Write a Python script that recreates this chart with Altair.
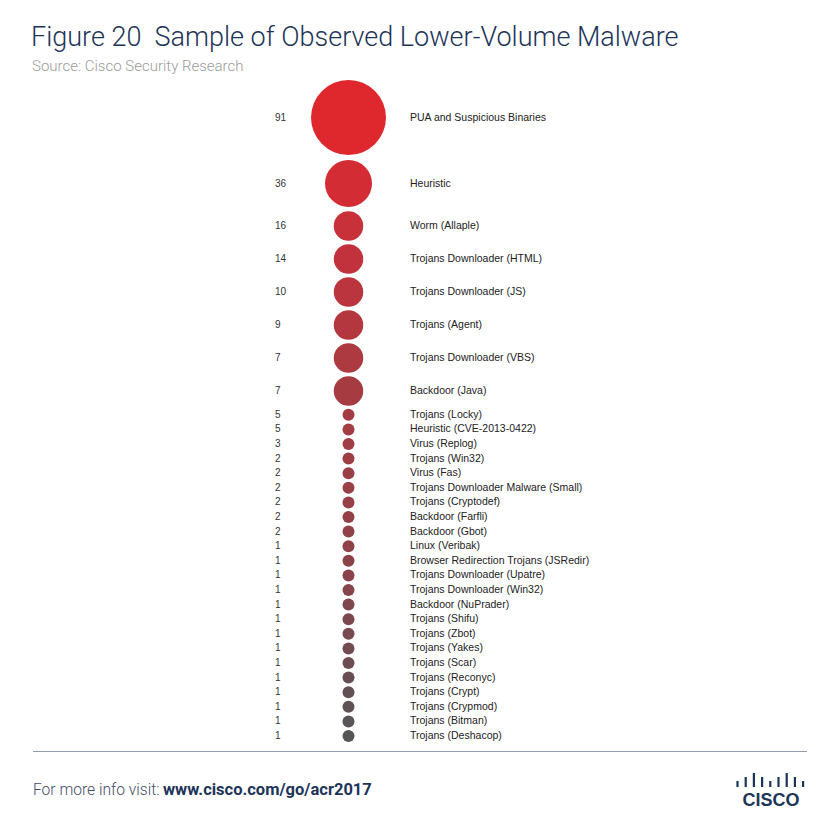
import altair as alt
import pandas as pd

# ---- data ----
names = [
    "PUA and Suspicious Binaries", "Heuristic", "Worm (Allaple)",
    "Trojans Downloader (HTML)", "Trojans Downloader (JS)", "Trojans (Agent)",
    "Trojans Downloader (VBS)", "Backdoor (Java)", "Trojans (Locky)",
    "Heuristic (CVE-2013-0422)", "Virus (Replog)", "Trojans (Win32)",
    "Virus (Fas)", "Trojans Downloader Malware (Small)", "Trojans (Cryptodef)",
    "Backdoor (Farfli)", "Backdoor (Gbot)", "Linux (Veribak)",
    "Browser Redirection Trojans (JSRedir)", "Trojans Downloader (Upatre)",
    "Trojans Downloader (Win32)", "Backdoor (NuPrader)", "Trojans (Shifu)",
    "Trojans (Zbot)", "Trojans (Yakes)", "Trojans (Scar)", "Trojans (Reconyc)",
    "Trojans (Crypt)", "Trojans (Crypmod)", "Trojans (Bitman)",
    "Trojans (Deshacop)",
]
values = [91, 36, 16, 14, 10, 9, 7, 7, 5, 5, 3, 2, 2, 2, 2, 2, 2,
          1, 1, 1, 1, 1, 1, 1, 1, 1, 1, 1, 1, 1, 1]

title_text = "Figure 20\u00a0 Sample of Observed Lower-Volume Malware"
source_text = "Source: Cisco Security Research"
footer_text = "For more info visit:"
footer_url = "www.cisco.com/go/acr2017"
logo_heights = [6, 10, 14, 10, 6, 10, 14, 10, 6]

# ---- layout helpers (derived) ----
size_domain = [6, 20, 50]
slot_range = [14.6, 33, 52, 80]


def slot(v):
    i = sum(v > d for d in size_domain)
    return slot_range[i]


df = pd.DataFrame({"name": names, "value": values})
df["order"] = range(len(df))
df["slot"] = df["value"].map(slot)
df["pos"] = df["slot"].cumsum() - df["slot"] / 2
total = float(df["slot"].sum())

yscale = alt.Scale(domain=[0, total], range=[77.5, 77.5 + total])
navy = "#1d3459"
font = "Liberation Sans"

base = alt.Chart(df)

circles = base.mark_circle(opacity=1).encode(
    x=alt.value(348.5),
    y=alt.Y("pos:Q", scale=yscale, axis=None),
    size=alt.Size("value:Q",
                  scale=alt.Scale(type="threshold", domain=size_domain,
                                  range=[144, 870, 2209, 5625]),
                  legend=None),
    color=alt.Color("order:Q",
                    scale=alt.Scale(domain=[0, 2, 7, 19, 30],
                                    range=["#df272e", "#c8303a", "#a63c42",
                                           "#8a434a", "#555558"],
                                    interpolate="rgb"),
                    legend=None),
)

nums = base.mark_text(align="left", baseline="middle", fontSize=10,
                      font=font, color="#333333").encode(
    x=alt.value(275),
    y=alt.Y("pos:Q", scale=yscale, axis=None),
    text="value:Q",
)

labels = base.mark_text(align="left", baseline="middle", fontSize=10.5,
                        font=font, color="#222222").encode(
    x=alt.value(410),
    y=alt.Y("pos:Q", scale=yscale, axis=None),
    text="name:N",
)

one = pd.DataFrame({"t": [0]})

title = alt.Chart(one).mark_text(
    align="left", baseline="alphabetic", fontSize=27, font="Roboto",
    fontWeight=300, color=navy, text=title_text,
).encode(x=alt.value(31), y=alt.value(46))

source = alt.Chart(one).mark_text(
    align="left", baseline="alphabetic", fontSize=15, font="Roboto",
    fontWeight=300, color="#9b9b9b", text=source_text,
).encode(x=alt.value(32), y=alt.value(71))

divider = alt.Chart(one).mark_rule(color="#8f9bab", strokeWidth=1).encode(
    x=alt.value(33), x2=alt.value(807), y=alt.value(751.5))

foot1 = alt.Chart(one).mark_text(
    align="left", baseline="alphabetic", fontSize=15.6, font="Roboto",
    fontWeight=300, color="#3f4d66", text=footer_text,
).encode(x=alt.value(33), y=alt.value(795))

foot2 = alt.Chart(one).mark_text(
    align="left", baseline="alphabetic", fontSize=16.5, font="Roboto",
    fontWeight="bold", color=navy, text=footer_url,
).encode(x=alt.value(163), y=alt.value(795))

logo_layers = []
for i, h in enumerate(logo_heights):
    xx = 737.5 + i * 8.2
    logo_layers.append(
        alt.Chart(one).mark_rule(color=navy, strokeWidth=2.2).encode(
            x=alt.value(xx), y=alt.value(787 - h), y2=alt.value(787))
    )

cisco = alt.Chart(one).mark_text(
    align="center", baseline="alphabetic", fontSize=18, font="Liberation Sans",
    fontWeight="bold", color=navy, text="CISCO",
).encode(x=alt.value(771), y=alt.value(806))

chart = alt.layer(
    circles, nums, labels, title, source, divider, foot1, foot2,
    *logo_layers, cisco,
).properties(
    width=840, height=840,
    autosize=alt.AutoSizeParams(type="none"),
    padding=0,
).configure_view(stroke=None)

chart.save("out.html", embed_options={"renderer": "svg", "actions": False})
